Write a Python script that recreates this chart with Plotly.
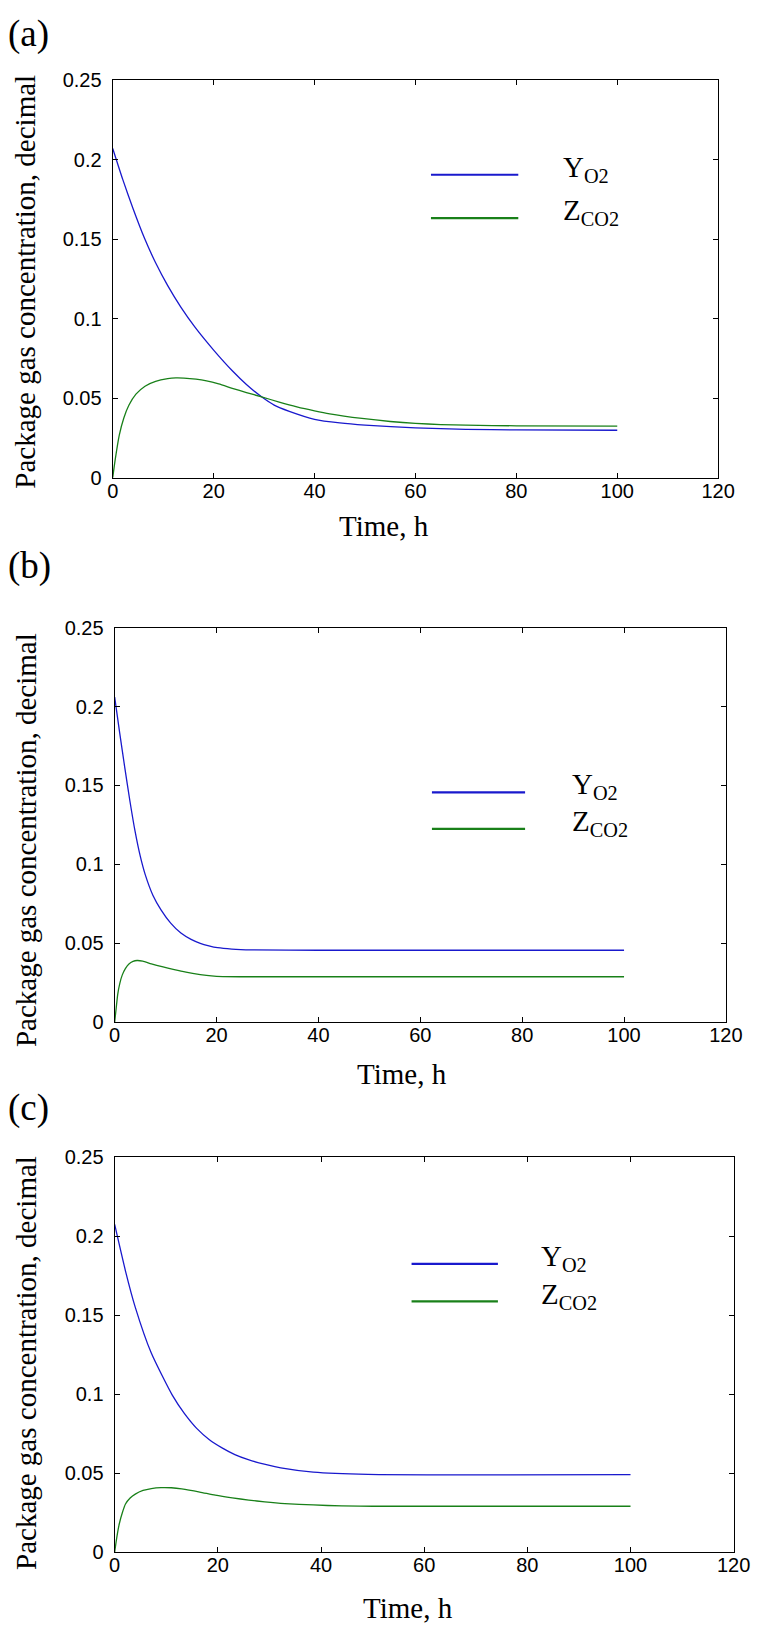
import plotly.graph_objects as go

W, H = 773, 1637

# ---------------- data ----------------
# Panel (a)
t_a_o2 = [0, 2, 4, 6.3, 8.5, 10.9, 13.5, 16.3, 20, 23.7, 26.5, 29.5, 32, 35, 40, 45, 50, 60, 70, 80, 100]
y_a_o2 = [0.207, 0.1874, 0.1694, 0.1505, 0.1351, 0.1207, 0.1072, 0.0946, 0.0802, 0.0672, 0.0586, 0.0508, 0.0456, 0.0417, 0.0367, 0.0344, 0.0330, 0.0313, 0.0304, 0.0300, 0.0298]
t_a_co2 = [0, 0.5, 1.3, 2.2, 3.2, 4.6, 6.4, 8.5, 10.9, 12.5, 14.1, 16.5, 18.6, 21, 23.7, 26.5, 29.5, 33, 36.5, 40, 43, 49.4, 55, 60, 65, 70, 80, 100]
y_a_co2 = [0.0, 0.0115, 0.0267, 0.0375, 0.0455, 0.0525, 0.0575, 0.0605, 0.0622, 0.0627, 0.0626, 0.0619, 0.0608, 0.0589, 0.0562, 0.0535, 0.0508, 0.0475, 0.0445, 0.0420, 0.0401, 0.0372, 0.0353, 0.0341, 0.0334, 0.0330, 0.0326, 0.0324]

# Panel (b)
t_b_o2 = [0, 1, 2, 3, 4, 5, 6, 7.5, 9.1, 11, 13, 15, 16.8, 18.5, 20.2, 23, 26.9, 40, 100]
y_b_o2 = [0.206, 0.183, 0.161, 0.140, 0.121, 0.1055, 0.0935, 0.0805, 0.0712, 0.0628, 0.0565, 0.0525, 0.0500, 0.0484, 0.0472, 0.0463, 0.0458, 0.0456, 0.0456]
t_b_co2 = [0, 0.3, 0.6, 1.0, 1.5, 2.1, 2.8, 3.6, 4.4, 5.5, 7.2, 9.5, 11.7, 14, 16.8, 19, 21.2, 25, 40, 100]
y_b_co2 = [0.0, 0.009, 0.0177, 0.0245, 0.0300, 0.0340, 0.0369, 0.0385, 0.0391, 0.0387, 0.0370, 0.0350, 0.0333, 0.0317, 0.0302, 0.0293, 0.0289, 0.0288, 0.0288, 0.0288]

# Panel (c)
t_c_o2 = [0, 2.1, 4, 7.1, 11.2, 13.5, 15.9, 18.3, 20.9, 23.3, 25.9, 29, 32.2, 38.5, 49.1, 100]
y_c_o2 = [0.2075, 0.178, 0.155, 0.126, 0.0992, 0.0878, 0.0783, 0.0713, 0.0658, 0.0617, 0.0585, 0.0556, 0.0533, 0.0506, 0.0492, 0.0490]
t_c_co2 = [0, 0.4, 0.9, 1.5, 2.1, 3, 4, 5.5, 7.1, 9, 11, 13, 16.5, 19.5, 22.8, 26, 29.1, 33, 38.5, 44, 50, 100]
y_c_co2 = [0.0, 0.009, 0.0179, 0.0250, 0.0304, 0.0342, 0.0367, 0.0390, 0.0402, 0.0408, 0.0407, 0.0400, 0.0380, 0.0360, 0.0343, 0.0329, 0.0318, 0.0307, 0.0298, 0.0292, 0.0290, 0.0290]

x_ticks = [0, 20, 40, 60, 80, 100, 120]
x_tick_labels = ["0", "20", "40", "60", "80", "100", "120"]
y_ticks = [0, 0.05, 0.1, 0.15, 0.2, 0.25]
y_tick_labels = ["0", "0.05", "0.1", "0.15", "0.2", "0.25"]

panel_labels = ["(a)", "(b)", "(c)"]
series_names = ["Y<sub>O2</sub>", "Z<sub>CO2</sub>"]
x_title = "Time, h"
y_title = "Package gas concentration, decimal"

BLUE = "rgb(25,25,205)"
GREEN = "rgb(25,128,25)"

# ---------------- layout geometry (page pixels) ----------------
def px(x):
    return x / W

def py(y):
    return 1 - y / H

panels = [
    dict(x0=110, x1=734, y0=70, y1=473, data=(t_a_o2, y_a_o2, t_a_co2, y_a_co2),
         lab_y=None, ytitle_y=274, xtitle_x=390, xtitle_y=522,
         leg_x0=438, leg_x1=528, leg_y=(166, 210), leg_tx=572),
    dict(x0=112, x1=742, y0=625, y1=1025, data=(t_b_o2, y_b_o2, t_b_co2, y_b_co2),
         lab_y=563, ytitle_y=840, xtitle_x=408, xtitle_y=1077,
         leg_x0=439, leg_x1=535, leg_y=(792, 829), leg_tx=581),
    dict(x0=112, x1=750, y0=1162, y1=1562, data=(t_c_o2, y_c_o2, t_c_co2, y_c_co2),
         lab_y=1112, ytitle_y=1370, xtitle_x=414, xtitle_y=1619,
         leg_x0=418, leg_x1=507, leg_y=(1270, 1308), leg_tx=549),
]

fig = go.Figure()
annotations = []
shapes = []
SERIF = "Liberation Serif, Times New Roman, serif"
SANS = "Liberation Sans, Arial, Helvetica, sans-serif"

for i, p in enumerate(panels):
    n = "" if i == 0 else str(i + 1)
    xa, ya = "x" + n, "y" + n
    t1, v1, t2, v2 = p["data"]
    fig.add_trace(go.Scatter(x=t1, y=v1, xaxis=xa, yaxis=ya, mode="lines",
                             line=dict(color=BLUE, width=1.3, shape="spline", smoothing=0.6),
                             showlegend=False, name="Y O2"))
    fig.add_trace(go.Scatter(x=t2, y=v2, xaxis=xa, yaxis=ya, mode="lines",
                             line=dict(color=GREEN, width=1.3, shape="spline", smoothing=0.6),
                             showlegend=False, name="Z CO2"))
    axis_common = dict(showline=True, linecolor="black", linewidth=1.2, mirror="ticks",
                       ticks="inside", ticklen=5, tickwidth=1, tickcolor="black",
                       showgrid=False, zeroline=False,
                       tickfont=dict(family=SANS, size=20, color="black"))
    fig.update_layout(**{
        "xaxis" + n: dict(domain=[px(p["x0"]), px(p["x1"])], range=[0, 120],
                          tickvals=x_ticks, ticktext=x_tick_labels, anchor=ya,
                          ticklabelstandoff=-5, **axis_common),
        "yaxis" + n: dict(domain=[py(p["y1"]), py(p["y0"])], range=[0, 0.25],
                          tickvals=y_ticks, ticktext=y_tick_labels, anchor=xa,
                          ticklabelstandoff=6, **axis_common),
    })
    # panel label
    if p["lab_y"] is None:
        annotations.append(dict(text=panel_labels[i], x=0, y=1, xref="paper", yref="paper",
                                xanchor="left", yanchor="top", showarrow=False,
                                font=dict(family=SERIF, size=37, color="black")))
    else:
        annotations.append(dict(text=panel_labels[i], x=0, y=py(p["lab_y"]), xref="paper", yref="paper",
                                xanchor="left", yanchor="middle", showarrow=False,
                                font=dict(family=SERIF, size=37, color="black")))
    # axis titles
    annotations.append(dict(text=y_title, x=px(20), y=py(p["ytitle_y"]), xref="paper", yref="paper",
                            xanchor="center", yanchor="middle", textangle=-90, showarrow=False,
                            font=dict(family=SERIF, size=29, color="black")))
    annotations.append(dict(text=x_title, x=px(p["xtitle_x"]), y=py(p["xtitle_y"]), xref="paper", yref="paper",
                            xanchor="center", yanchor="middle", showarrow=False,
                            font=dict(family=SERIF, size=29, color="black")))
    # legend
    for k, col in enumerate([BLUE, GREEN]):
        ly = p["leg_y"][k]
        shapes.append(dict(type="line", xref="paper", yref="paper",
                           x0=px(p["leg_x0"]), x1=px(p["leg_x1"]), y0=py(ly), y1=py(ly),
                           line=dict(color=col, width=2.2)))
        annotations.append(dict(text=series_names[k], x=px(p["leg_tx"]), y=py(ly - 6), xref="paper", yref="paper",
                                xanchor="left", yanchor="middle", showarrow=False,
                                font=dict(family=SERIF, size=29, color="black")))

fig.update_layout(width=W, height=H, margin=dict(l=0, r=0, t=0, b=0),
                  paper_bgcolor="white", plot_bgcolor="white",
                  annotations=annotations, shapes=shapes, showlegend=False)

# remove the default page margin so the figure sits at the window origin
fig.write_html("out.html", config={"displayModeBar": False},
               post_script="document.body.style.margin='0';")
